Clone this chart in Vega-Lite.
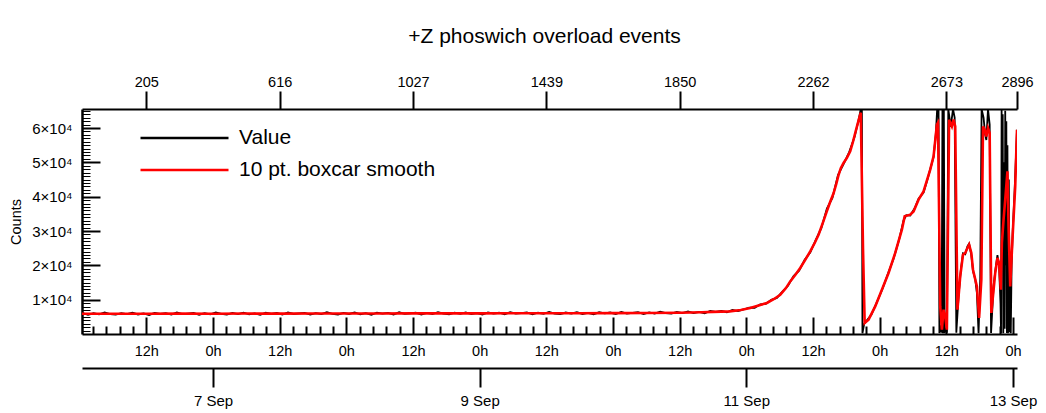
{
  "$schema": "https://vega.github.io/schema/vega-lite/v6.json",
  "width": 935,
  "height": 225,
  "autosize": {"type": "none"},
  "padding": {"left": 82, "top": 109, "right": 29, "bottom": 79},
  "background": "white",
  "title": {"text": "+Z phoswich overload events", "fontSize": 21, "fontWeight": "normal", "font": "Liberation Sans", "color": "black", "offset": 27, "anchor": "middle", "dx": -5},
  "config": {
    "view": {"stroke": null},
    "font": "Liberation Sans",
    "axis": {"grid": false, "domainColor": "black", "tickColor": "black", "labelColor": "black", "titleColor": "black", "labelFont": "Liberation Sans", "titleFont": "Liberation Sans", "labelFlush": false, "labelOverlap": false}
  },
  "datasets": {
    "value": [
      {"h":0.5,"v":6120},{"h":1.5,"v":5590},{"h":2.5,"v":6040},{"h":3.5,"v":5720},{"h":4.5,"v":6260},{"h":5.5,"v":5820},{"h":6.5,"v":5640},{"h":7.5,"v":6100},{"h":8.5,"v":5770},{"h":9.5,"v":6210},
      {"h":10.5,"v":5690},{"h":11.5,"v":5990},{"h":12.5,"v":5550},{"h":13.5,"v":6160},{"h":14.5,"v":5850},{"h":15.5,"v":6090},{"h":16.5,"v":5630},{"h":17.5,"v":6250},{"h":18.5,"v":5800},{"h":19.5,"v":5960},
      {"h":20.5,"v":6140},{"h":21.5,"v":5610},{"h":22.5,"v":6060},{"h":23.5,"v":5740},{"h":24.5,"v":6290},{"h":25.5,"v":5840},{"h":26.5,"v":5660},{"h":27.5,"v":6120},{"h":28.5,"v":5790},{"h":29.5,"v":6230},
      {"h":30.5,"v":5720},{"h":31.5,"v":6020},{"h":32.5,"v":5580},{"h":33.5,"v":6190},{"h":34.5,"v":5880},{"h":35.5,"v":6110},{"h":36.5,"v":5650},{"h":37.5,"v":6280},{"h":38.5,"v":5830},{"h":39.5,"v":5990},
      {"h":40.5,"v":6170},{"h":41.5,"v":5640},{"h":42.5,"v":6100},{"h":43.5,"v":5780},{"h":44.5,"v":6320},{"h":45.5,"v":5870},{"h":46.5,"v":5690},{"h":47.5,"v":6160},{"h":48.5,"v":5830},{"h":49.5,"v":6270},
      {"h":50.5,"v":5750},{"h":51.5,"v":6050},{"h":52.5,"v":5610},{"h":53.5,"v":6230},{"h":54.5,"v":5920},{"h":55.5,"v":6150},{"h":56.5,"v":5690},{"h":57.5,"v":6320},{"h":58.5,"v":5870},{"h":59.5,"v":6030},
      {"h":60.5,"v":6220},{"h":61.5,"v":5690},{"h":62.5,"v":6140},{"h":63.5,"v":5820},{"h":64.5,"v":6360},{"h":65.5,"v":5920},{"h":66.5,"v":5740},{"h":67.5,"v":6200},{"h":68.5,"v":5870},{"h":69.5,"v":6310},
      {"h":70.5,"v":5790},{"h":71.5,"v":6090},{"h":72.5,"v":5650},{"h":73.5,"v":6270},{"h":74.5,"v":5960},{"h":75.5,"v":6190},{"h":76.5,"v":5740},{"h":77.5,"v":6360},{"h":78.5,"v":5910},{"h":79.5,"v":6080},
      {"h":80.5,"v":6260},{"h":81.5,"v":5730},{"h":82.5,"v":6190},{"h":83.5,"v":5870},{"h":84.5,"v":6410},{"h":85.5,"v":5960},{"h":86.5,"v":5790},{"h":87.5,"v":6250},{"h":88.5,"v":5920},{"h":89.5,"v":6360},
      {"h":90.5,"v":5840},{"h":91.5,"v":6150},{"h":92.5,"v":5710},{"h":93.5,"v":6320},{"h":94.5,"v":6020},{"h":95.5,"v":6250},{"h":96.5,"v":5790},{"h":97.5,"v":6420},{"h":98.5,"v":5970},{"h":99.5,"v":6140},
      {"h":100.5,"v":6330},{"h":101.5,"v":5810},{"h":102.5,"v":6270},{"h":103.5,"v":5960},{"h":104.5,"v":6520},{"h":105.5,"v":6090},{"h":106.5,"v":5930},{"h":107.5,"v":6410},{"h":108.5,"v":6110},{"h":109.5,"v":6580},
      {"h":110.5,"v":6090},{"h":111.5,"v":6430},{"h":112.5,"v":6040},{"h":113.5,"v":6700},{"h":114.5,"v":6440},{"h":115.5,"v":6730},{"h":116.5,"v":6340},{"h":117.5,"v":7030},{"h":118.5,"v":6680},{"h":119.5,"v":7140},
      {"h":120.5,"v":7670},{"h":121.5,"v":7650},{"h":122.5,"v":8650},{"h":123.5,"v":8750},{"h":124.5,"v":9950},{"h":125.5,"v":10500},{"h":126.5,"v":12350},{"h":127.5,"v":14050},{"h":128.5,"v":16900},{"h":129.5,"v":18450},
      {"h":130.5,"v":21600},{"h":131.5,"v":23760},{"h":132.5,"v":27400},{"h":133.5,"v":30800},{"h":134.5,"v":36510},{"h":135.5,"v":39600},{"h":136.5,"v":46300},{"h":137.5,"v":49510},{"h":138.5,"v":52900},{"h":139.5,"v":57500},
      {"h":140.2,"v":62300},{"h":140.6,"v":65535},{"h":140.8,"v":65535},{"h":140.9,"v":200},{"h":141.2,"v":2900},{"h":141.6,"v":3800},{"h":142.5,"v":5600},{"h":143.5,"v":9300},{"h":144.5,"v":13100},{"h":145.5,"v":17600},
      {"h":146.5,"v":21900},{"h":147.5,"v":27500},{"h":148.3,"v":33100},{"h":148.8,"v":34600},{"h":149.5,"v":34500},{"h":150.3,"v":36600},{"h":151,"v":39400},{"h":151.9,"v":41200},{"h":152.6,"v":45000},{"h":153.1,"v":48000},
      {"h":153.7,"v":51500},{"h":154.1,"v":58000},{"h":154.35,"v":65535},{"h":154.6,"v":65535},{"h":154.75,"v":300},{"h":155,"v":2500},{"h":155.15,"v":400},{"h":155.3,"v":65535},{"h":155.4,"v":200},{"h":155.55,"v":65535},
      {"h":155.7,"v":300},{"h":155.9,"v":1800},{"h":156.1,"v":400},{"h":156.35,"v":65535},{"h":156.8,"v":60300},{"h":157.2,"v":65535},{"h":157.5,"v":63000},{"h":157.8,"v":400},{"h":158.2,"v":11000},{"h":158.6,"v":18500},
      {"h":159,"v":23500},{"h":159.4,"v":23200},{"h":159.8,"v":25500},{"h":160.1,"v":26300},{"h":160.5,"v":23000},{"h":160.8,"v":18300},{"h":161.2,"v":16000},{"h":161.5,"v":12000},{"h":161.8,"v":200},{"h":162.1,"v":16000},
      {"h":162.35,"v":65535},{"h":162.7,"v":63000},{"h":163,"v":58000},{"h":163.2,"v":56500},{"h":163.5,"v":65535},{"h":163.8,"v":61000},{"h":164.05,"v":300},{"h":164.5,"v":14000},{"h":164.9,"v":19500},{"h":165.2,"v":23000},
      {"h":165.5,"v":19500},{"h":165.75,"v":9000},{"h":165.85,"v":200},{"h":165.95,"v":65535},{"h":166.05,"v":25000},{"h":166.15,"v":64000},{"h":166.25,"v":200},{"h":166.4,"v":50000},{"h":166.5,"v":1500},{"h":166.6,"v":65000},
      {"h":166.7,"v":20000},{"h":166.8,"v":62000},{"h":166.9,"v":300},{"h":167,"v":55000},{"h":167.1,"v":200},{"h":167.25,"v":45000},{"h":167.4,"v":500},{"h":167.5,"v":15000},{"h":167.6,"v":200},{"h":167.75,"v":20000},
      {"h":167.95,"v":30000},{"h":168.3,"v":42000},{"h":168.72,"v":59500}
    ],
    "smooth": [
      {"h":0.42,"v":5900},{"h":6,"v":5920},{"h":12,"v":5900},{"h":18,"v":5930},{"h":24,"v":5920},{"h":30,"v":5950},{"h":36,"v":5940},{"h":42,"v":5960},{"h":48,"v":5980},{"h":54,"v":5970},
      {"h":60,"v":6000},{"h":66,"v":6010},{"h":72,"v":6000},{"h":78,"v":6030},{"h":84,"v":6050},{"h":90,"v":6060},{"h":96,"v":6080},{"h":102,"v":6120},{"h":108,"v":6200},{"h":112,"v":6320},
      {"h":114,"v":6430},{"h":117,"v":6600},{"h":119,"v":7000},{"h":120.7,"v":7574},{"h":122.2,"v":8300},{"h":123.7,"v":9030},{"h":125,"v":10200},{"h":126.1,"v":11450},{"h":127.1,"v":13300},{"h":127.9,"v":15320},
      {"h":128.8,"v":17200},{"h":129.7,"v":19226},{"h":130.6,"v":21600},{"h":131.5,"v":24060},{"h":132.3,"v":26500},{"h":133,"v":28930},{"h":133.8,"v":32500},{"h":134.5,"v":35800},{"h":135.1,"v":38500},{"h":135.7,"v":41000},
      {"h":136.2,"v":43800},{"h":136.6,"v":46300},{"h":137,"v":48300},{"h":137.5,"v":49810},{"h":138.1,"v":51300},{"h":138.7,"v":53190},{"h":139.2,"v":56000},{"h":139.6,"v":58550},{"h":140,"v":61000},{"h":140.3,"v":62800},
      {"h":140.6,"v":64460},{"h":141,"v":25000},{"h":141.3,"v":3200},{"h":142,"v":4170},{"h":143.2,"v":8040},{"h":144.4,"v":12900},{"h":145.6,"v":17770},{"h":146.8,"v":23600},{"h":148,"v":30380},{"h":148.5,"v":34260},
      {"h":149.5,"v":34750},{"h":150.1,"v":35710},{"h":151,"v":39120},{"h":151.9,"v":41540},{"h":153.1,"v":47860},{"h":153.7,"v":51740},{"h":154.3,"v":60970},{"h":154.5,"v":61550},{"h":154.9,"v":8040},{"h":155.2,"v":1250},
      {"h":155.5,"v":7080},{"h":155.8,"v":5130},{"h":156.1,"v":1250},{"h":156.5,"v":62430},{"h":157,"v":60470},{"h":157.3,"v":62430},{"h":157.6,"v":60470},{"h":158,"v":7080},{"h":158.5,"v":16780},{"h":159,"v":23100},
      {"h":159.4,"v":23600},{"h":159.8,"v":25050},{"h":160.1,"v":26010},{"h":160.5,"v":23600},{"h":160.8,"v":18730},{"h":161.5,"v":13870},{"h":161.9,"v":4660},{"h":162.3,"v":15820},{"h":162.6,"v":60470},{"h":162.9,"v":59510},
      {"h":163.2,"v":57560},{"h":163.5,"v":60010},{"h":163.8,"v":58550},{"h":164.1,"v":6120},{"h":164.8,"v":17770},{"h":165.2,"v":22140},{"h":165.5,"v":20680},{"h":165.8,"v":12900},{"h":166,"v":26510},{"h":166.3,"v":33300},
      {"h":166.6,"v":39120},{"h":167,"v":47360},{"h":167.2,"v":31340},{"h":167.5,"v":13870},{"h":167.9,"v":27470},{"h":168.4,"v":43000},{"h":168.72,"v":59510}
    ]
  },
  "layer": [
    {
      "data": {"name": "value"},
      "mark": {"type": "line", "strokeWidth": 1.8, "clip": true},
      "encoding": {
        "x": {"field": "h", "type": "quantitative", "scale": {"domain": [0.42, 168.72], "nice": false, "zero": false},
          "axis": {"orient": "bottom", "title": null, "values": [12,24,36,48,60,72,84,96,108,120,132,144,156,168], "labelExpr": "datum.value % 24 == 0 ? '0h' : '12h'", "tickSize": -17, "tickWidth": 2, "domainWidth": 2, "labelPadding": 27, "labelFontSize": 14.5}},
        "y": {"field": "v", "type": "quantitative", "scale": {"domain": [0, 65535], "nice": false, "zero": false},
          "axis": {"orient": "left", "title": "Counts", "titleFontSize": 14.5, "titleFontWeight": "normal", "titlePadding": 8, "values": [10000,20000,30000,40000,50000,60000], "labelExpr": "(datum.value / 10000) + '×10⁴'", "tickSize": -18, "tickWidth": 2, "domainWidth": 2.5, "labelPadding": 28, "labelFontSize": 15}},
        "color": {"datum": "Value", "scale": {"domain": ["Value", "10 pt. boxcar smooth"], "range": ["#000000", "#ff0000"]},
          "legend": {"orient": "none", "legendX": 90, "legendY": 16.5, "title": null, "symbolType": "M-4,0H4", "symbolSize": 484, "symbolStrokeWidth": 2.5, "symbolFillColor": "transparent", "labelFontSize": 21, "labelOffset": 42, "labelLimit": 0, "rowPadding": 9, "padding": 0, "labelColor": "black", "labelFont": "Liberation Sans"}}
      }
    },
    {
      "data": {"name": "smooth"},
      "mark": {"type": "line", "strokeWidth": 2.6, "clip": true},
      "encoding": {
        "x": {"field": "h", "type": "quantitative",
          "axis": {"orient": "bottom", "title": null, "labels": false, "domain": false, "tickSize": -8, "tickWidth": 2,
            "values": [2.4,4.8,7.2,9.6,14.4,16.8,19.2,21.6,26.4,28.8,31.2,33.6,38.4,40.8,43.2,45.6,50.4,52.8,55.2,57.6,62.4,64.8,67.2,69.6,74.4,76.8,79.2,81.6,86.4,88.8,91.2,93.6,98.4,100.8,103.2,105.6,110.4,112.8,115.2,117.6,122.4,124.8,127.2,129.6,134.4,136.8,139.2,141.6,146.4,148.8,151.2,153.6,158.4,160.8,163.2,165.6]}},
        "y": {"field": "v", "type": "quantitative",
          "axis": {"orient": "left", "title": null, "labels": false, "domain": false, "tickSize": -8, "tickWidth": 1,
            "values": [1000,2000,3000,4000,5000,6000,7000,8000,9000,11000,12000,13000,14000,15000,16000,17000,18000,19000,21000,22000,23000,24000,25000,26000,27000,28000,29000,31000,32000,33000,34000,35000,36000,37000,38000,39000,41000,42000,43000,44000,45000,46000,47000,48000,49000,51000,52000,53000,54000,55000,56000,57000,58000,59000,61000,62000,63000,64000,65000]}},
        "color": {"datum": "10 pt. boxcar smooth"}
      }
    },
    {
      "data": {"name": "smooth"},
      "mark": {"type": "line", "opacity": 0},
      "encoding": {
        "x": {"field": "h", "type": "quantitative",
          "axis": {"orient": "bottom", "offset": 34, "title": null, "values": [24,72,120,168], "labelExpr": "datum.value == 24 ? '7 Sep' : datum.value == 72 ? '9 Sep' : datum.value == 120 ? '11 Sep' : '13 Sep'", "tickSize": 19, "tickWidth": 2, "domainWidth": 2, "labelPadding": 6, "labelFontSize": 15}},
        "y": {"field": "v", "type": "quantitative", "axis": null}
      }
    },
    {
      "data": {"name": "smooth"},
      "mark": {"type": "line", "opacity": 0},
      "encoding": {
        "x": {"field": "h", "type": "quantitative",
          "axis": {"orient": "top", "title": null, "values": [12,36,60,84,108,132,156,168.72], "labelExpr": "datum.value == 12 ? '205' : datum.value == 36 ? '616' : datum.value == 60 ? '1027' : datum.value == 84 ? '1439' : datum.value == 108 ? '1850' : datum.value == 132 ? '2262' : datum.value == 156 ? '2673' : '2896'", "tickSize": 18, "tickWidth": 2, "domainWidth": 2, "labelPadding": 2, "labelFontSize": 14.5}},
        "y": {"field": "v", "type": "quantitative", "axis": null}
      }
    }
  ],
  "resolve": {"axis": {"x": "independent", "y": "independent"}}
}
